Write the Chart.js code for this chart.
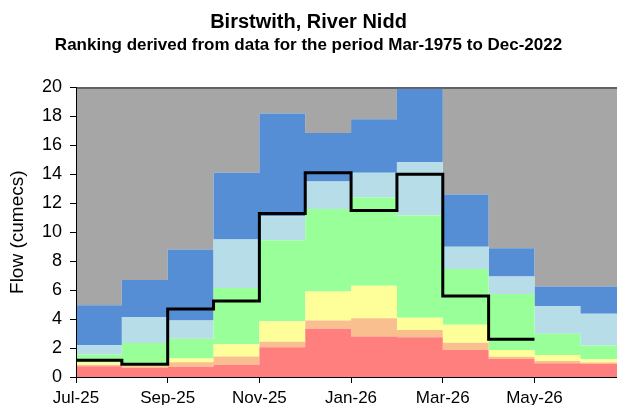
<!DOCTYPE html>
<html>
<head>
<meta charset="utf-8">
<script src="https://cdn.jsdelivr.net/npm/chart.js@4/dist/chart.umd.min.js"></script>
<style>
  html, body { margin: 0; padding: 0; background: #fff; }
  #wrap { width: 617px; height: 405px; }
</style>
</head>
<body>
<div id="wrap"><canvas id="flowChart" width="617" height="405"></canvas></div>
<script>
// month labels (one per band), ticks shown every 2nd month
const months = ['Jul-25', 'Aug-25', 'Sep-25', 'Oct-25', 'Nov-25', 'Dec-25',
                'Jan-26', 'Feb-26', 'Mar-26', 'Apr-26', 'May-26', 'Jun-26'];

// upper edge of each ranking band (cumecs)
const exceptLow   = [0.75, 0.62, 0.70, 0.85, 2.05, 3.34, 2.80, 2.75, 1.87, 1.24, 0.95, 0.90];
const notablyLow  = [0.85, 0.75, 1.02, 1.41, 2.44, 3.90, 4.06, 3.25, 2.37, 1.40, 1.10, 1.00];
const belowNormal = [1.00, 0.85, 1.28, 2.27, 3.85, 5.90, 6.30, 4.10, 3.60, 1.87, 1.52, 1.22];
const normal      = [1.55, 2.35, 2.65, 6.15, 9.45, 11.6, 12.4, 11.15, 7.45, 5.74, 2.98, 2.17];
const aboveNormal = [2.20, 4.15, 3.90, 9.50, 11.1, 13.5, 14.1, 14.85, 9.00, 6.94, 4.91, 4.36];
const notablyHigh = [4.95, 6.70, 8.80, 14.1, 18.2, 16.85, 17.8, 19.9, 12.6, 8.90, 6.25, 6.25];
const exceptHigh  = [20, 20, 20, 20, 20, 20, 20, 20, 20, 20, 20, 20];

// observed monthly mean flow
const observed = [1.15, 0.88, 4.70, 5.25, 11.3, 14.1, 11.5, 14.0, 5.60, 2.60];

const yTicks = [0, 2, 4, 6, 8, 10, 12, 14, 16, 18, 20];

/**
 * 월별 값 -> 계단형 점 (마지막 달 끝까지 이어지도록 한 점 추가)
 */
function toSteps(values) {
    const pts = values.map((v, i) => ({ x: i, y: v }));
    pts.push({ x: values.length, y: values[values.length - 1] });
    return pts;
}

function band(values, color, fill) {
    return {
        data: toSteps(values),
        stepped: 'before',
        backgroundColor: color,
        borderWidth: 0,
        pointRadius: 0,
        fill: fill,
        order: 2
    };
}

const FONT = "'Liberation Sans', Arial, sans-serif";

// 플롯 영역 테두리
const frame = {
    id: 'frame',
    afterDraw(chart) {
        const a = chart.chartArea;
        const c = chart.ctx;
        c.save();
        c.strokeStyle = '#000';
        c.lineWidth = 1;
        c.strokeRect(a.left + 0.5, a.top + 0.5, a.right - a.left, a.bottom - a.top);
        c.restore();
    }
};

new Chart(document.getElementById('flowChart'), {
    type: 'line',
    data: {
        datasets: [
            band(exceptLow,   '#FF7F7F', 'origin'),
            band(notablyLow,  '#FABF8F', '-1'),
            band(belowNormal, '#FFFF99', '-1'),
            band(normal,      '#99FF99', '-1'),
            band(aboveNormal, '#B7DDE8', '-1'),
            band(notablyHigh, '#558ED5', '-1'),
            band(exceptHigh,  '#A6A6A6', '-1'),
            {
                data: toSteps(observed),
                stepped: 'before',
                borderColor: '#000',
                borderWidth: 3,
                pointRadius: 0,
                fill: false,
                order: 1
            }
        ]
    },
    options: {
        responsive: false,
        animation: false,
        layout: { padding: 0 },
        plugins: {
            legend: { display: false },
            tooltip: { enabled: false },
            title: {
                display: true,
                text: 'Birstwith, River Nidd',
                color: '#000',
                font: { family: FONT, size: 20, weight: 'bold' },
                padding: { top: 10, bottom: 1 }
            },
            subtitle: {
                display: true,
                text: 'Ranking derived from data for the period Mar-1975 to Dec-2022',
                color: '#000',
                font: { family: FONT, size: 17, weight: 'bold' },
                padding: { top: 0, bottom: 32 }
            }
        },
        scales: {
            x: {
                type: 'linear',
                min: 0,
                max: 11.8,
                afterBuildTicks(scale) {
                    scale.ticks = months.map((m, i) => ({ value: i })).filter(t => t.value % 2 === 0);
                },
                afterFit(scale) { scale.height = 28; },
                ticks: {
                    color: '#000',
                    font: { family: FONT, size: 17 },
                    padding: 5,
                    maxRotation: 0,
                    callback: v => months[v]
                },
                grid: { drawOnChartArea: false, tickLength: 6, color: '#000' },
                border: { display: true, color: '#000' }
            },
            y: {
                min: 0,
                max: 20,
                afterBuildTicks(scale) {
                    scale.ticks = yTicks.map(v => ({ value: v }));
                },
                afterFit(scale) { scale.width = 76; },
                ticks: {
                    color: '#000',
                    font: { family: FONT, size: 18 },
                    padding: 8
                },
                title: {
                    display: true,
                    text: 'Flow (cumecs)',
                    color: '#000',
                    font: { family: FONT, size: 19 },
                    padding: { top: 6, bottom: 0 }
                },
                grid: { drawOnChartArea: false, tickLength: 6, color: '#000' },
                border: { display: true, color: '#000' }
            }
        }
    },
    plugins: [frame]
});
</script>
</body>
</html>
